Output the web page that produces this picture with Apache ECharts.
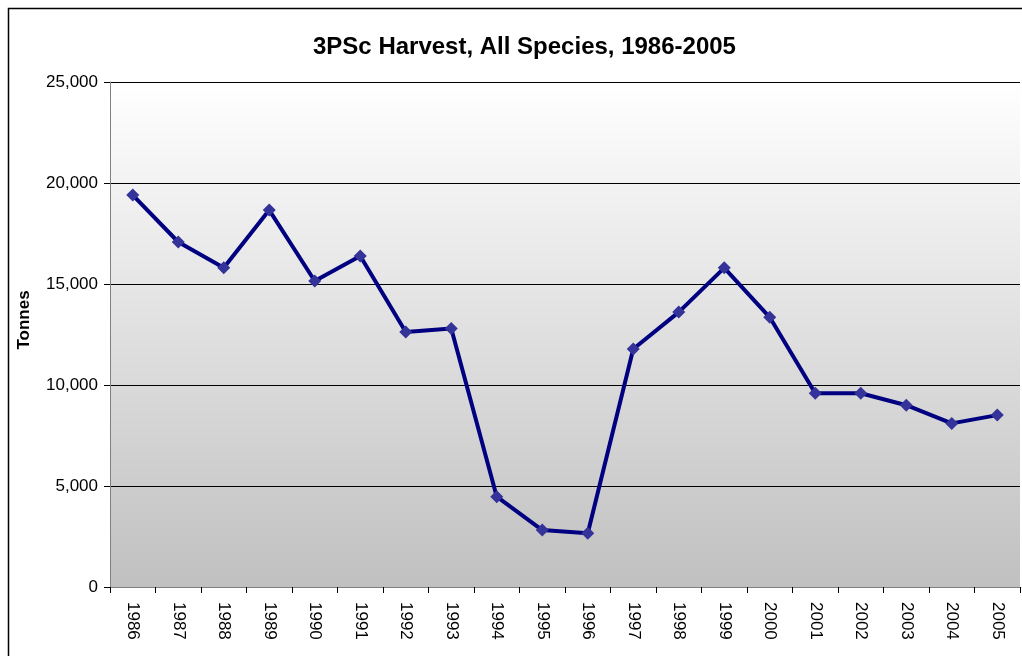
<!DOCTYPE html>
<html><head><meta charset="utf-8">
<script src="https://cdn.jsdelivr.net/npm/echarts@6/dist/echarts.min.js"></script>
<style>html,body{margin:0;padding:0;background:#fff}#c{width:1022px;height:656px}</style>
</head><body><div id="c"></div>
<script>
const years = ['1986','1987','1988','1989','1990','1991','1992','1993','1994','1995','1996','1997','1998','1999','2000','2001','2002','2003','2004','2005'];
const harvest = [19400,17080,15800,18660,15150,16390,12620,12800,4470,2820,2660,11780,13610,15800,13350,9590,9590,9000,8100,8510];
const titleText = '3PSc Harvest, All Species, 1986-2005';
const yName = 'Tonnes';

const chart = echarts.init(document.getElementById('c'), null, {renderer:'canvas'});
chart.setOption({
  animation:false,
  backgroundColor:'#fff',
  graphic:[
    {type:'rect',shape:{x:8.5,y:8.5,width:1100,height:700},style:{fill:'none',stroke:'#000',lineWidth:1.5},z:-1},
    {type:'text',x:24,y:320,rotation:Math.PI/2,
      style:{text:yName,font:'bold 17px "Liberation Sans", Arial',fill:'#000',align:'center',verticalAlign:'middle'}}
  ],
  title:{text:titleText,left:308,top:30,textStyle:{fontFamily:'Liberation Sans, Arial',fontWeight:'bold',fontSize:24,color:'#000'}},
  grid:{left:110,top:82,right:2,bottom:69,show:true,borderWidth:0,
    backgroundColor:new echarts.graphic.LinearGradient(0,0,0,1,[{offset:0,color:'#ffffff'},{offset:1,color:'#c0c0c0'}])},
  xAxis:{type:'category',data:years,boundaryGap:true,
    axisLine:{lineStyle:{color:'#808080',width:1}},
    axisTick:{show:true,length:6,alignWithLabel:false,lineStyle:{color:'#000'}},
    axisLabel:{rotate:-90,margin:15,fontFamily:'Liberation Sans, Arial',fontSize:17,color:'#000',interval:0}},
  yAxis:{type:'value',min:0,max:25000,interval:5000,
    axisLine:{show:true,lineStyle:{color:'#808080',width:1}},
    axisTick:{show:true,length:6,lineStyle:{color:'#000'}},
    axisLabel:{fontFamily:'Liberation Sans, Arial',fontSize:17,color:'#000',margin:12,
      formatter:v=>v.toLocaleString('en-US')},
    splitLine:{show:true,lineStyle:{color:'#000',width:1}}},
  series:[{type:'line',data:harvest,symbol:'diamond',symbolSize:13,
    lineStyle:{color:'#000080',width:4},
    itemStyle:{color:'#333399'}}]
});
</script></body></html>
